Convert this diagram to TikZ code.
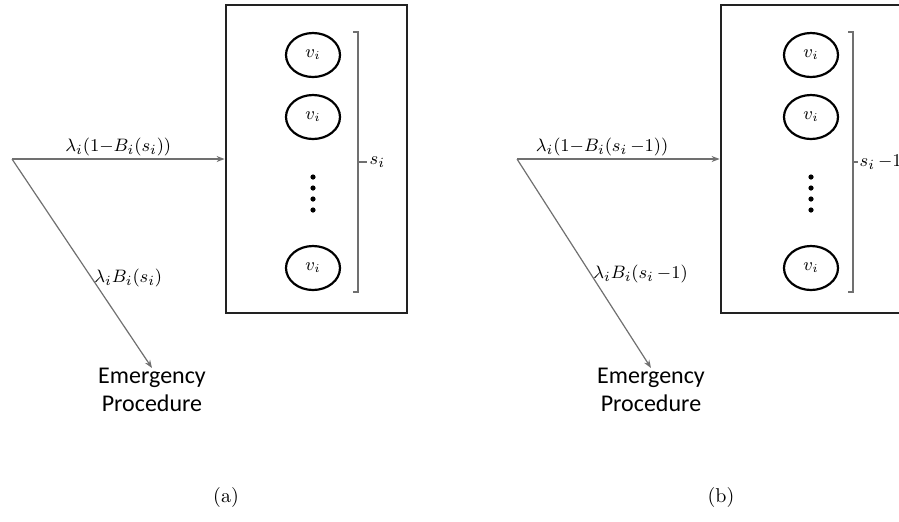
\documentclass[tikz,border=0pt]{standalone}
\usepackage{fontspec}
\newfontfamily\calfont{Carlito}
\usetikzlibrary{arrows.meta,positioning,shapes.geometric}
\definecolor{linegray}{HTML}{707070}
\definecolor{boxblack}{HTML}{222222}
\tikzset{queuebox/.style={draw=boxblack, line width=1.4pt, minimum width=90.5pt,
  minimum height=154pt, inner sep=0pt},
  servnode/.style={draw=black, ellipse, line width=1.1pt, minimum width=27pt,
  minimum height=22pt, inner sep=0pt, font=\fontsize{9}{10}\selectfont},
  flowarrow/.style={-{Stealth[length=4pt,width=3pt]}, linegray, line width=0.6pt},
  bracketline/.style={linegray, line width=0.7pt},
  ratelabel/.style={font=\fontsize{9.5}{11}\selectfont, text=black, inner sep=1pt},
  emnode/.style={font=\calfont\fontsize{12}{14}\selectfont, align=center, inner sep=0pt},
  panel/.style={x=0.5pt, y=-0.5pt}}
\begin{document}
\begin{tikzpicture}[panel]
    \clip (0,0) rectangle (899,521);
    % (a)
    \coordinate (aSrc) at (12,159);
    \node[queuebox] (aBox) at (316.5,159) {};
    \node[servnode] (aV1) at (313,55) {$v_i$};
    \node[servnode] (aV2) at (313,117) {$v_i$};
    \node[servnode] (aV3) at (313,268) {$v_i$};
    \foreach \y in {177,188,199,210} \fill (313,\y) circle (1.3pt);
    \draw[bracketline] (353,32) -- (358,32) -- (358,292) -- (353,292);
    \draw[bracketline] (358,162) -- (367,162) node[right, ratelabel] (aCount) {$s_i$};
    \node[emnode, anchor=north] (aEm) at (152,368) {Emergency\\Procedure};
    \draw[flowarrow] (aSrc) -- node[above, ratelabel] (aAdmit) {$\lambda_i(1{-}B_i(s_i))$} (aBox.west);
    \draw[flowarrow] (aSrc) -- node[right, pos=0.57, ratelabel] (aBlock) {$\lambda_i B_i(s_i)$} (aEm.north);
    \node (aCap) at (226,497) {(a)};
    % (b)
    \coordinate (bSrc) at (517,159);
    \node[queuebox] (bBox) at (811.5,159) {};
    \node[servnode] (bV1) at (811,55) {$v_i$};
    \node[servnode] (bV2) at (811,117) {$v_i$};
    \node[servnode] (bV3) at (811,268) {$v_i$};
    \foreach \y in {177,188,199,210} \fill (811,\y) circle (1.3pt);
    \draw[bracketline] (848,32) -- (853,32) -- (853,292) -- (848,292);
    \draw[bracketline] (853,162) -- (858,162) node[right, ratelabel, inner sep=0.5pt] (bCount) {$s_i\,{-}1$};
    \node[emnode, anchor=north] (bEm) at (651,368) {Emergency\\Procedure};
    \draw[flowarrow] (bSrc) -- node[above, pos=0.42, ratelabel] (bAdmit) {$\lambda_i(1{-}B_i(s_i\,{-}1))$} (bBox.west);
    \draw[flowarrow] (bSrc) -- node[right, pos=0.55, ratelabel] (bBlock) {$\lambda_i B_i(s_i\,{-}1)$} (bEm.north);
    \node (bCap) at (721,497) {(b)};
  \end{tikzpicture}
\end{document}
